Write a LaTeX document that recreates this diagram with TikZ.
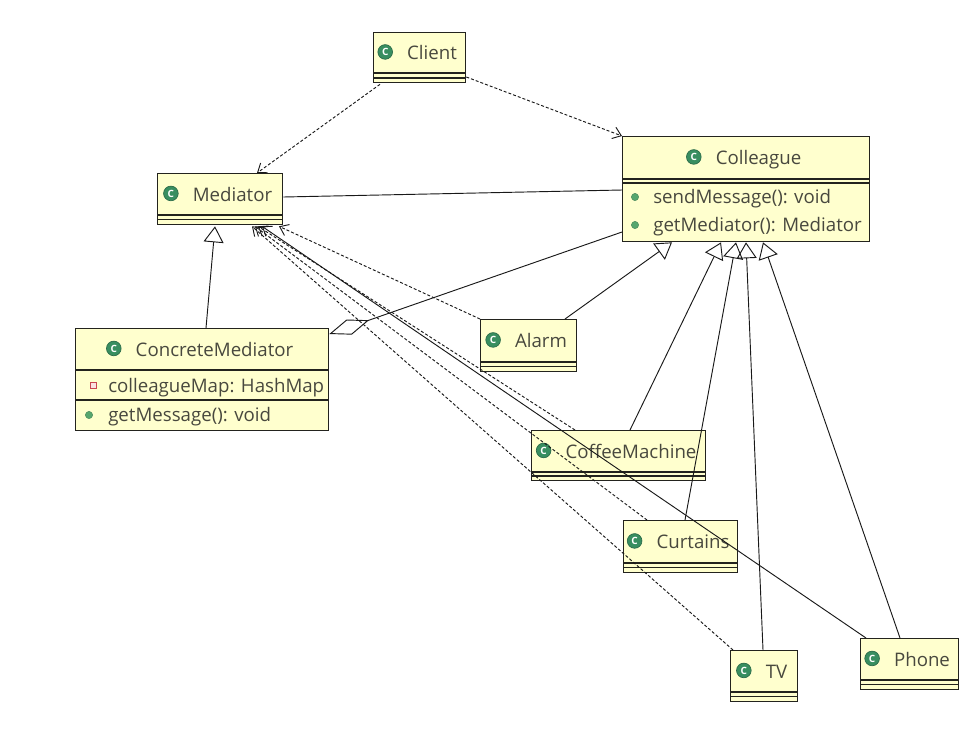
\documentclass[tikz,border=0pt]{standalone}
\usepackage{fontspec}
\setmainfont{Open Sans}
\usetikzlibrary{arrows.meta,calc}
\definecolor{boxfill}{RGB}{255,255,206}
\definecolor{boxline}{RGB}{35,35,30}
\definecolor{txt}{RGB}{72,72,62}
\definecolor{icongreen}{RGB}{56,142,96}
\definecolor{bulletgreen}{RGB}{86,166,110}
\definecolor{attrred}{RGB}{200,70,80}
\definecolor{attrfill}{RGB}{250,225,225}
\definecolor{edgecol}{RGB}{25,25,25}
\newcommand\clsdiv[2]{\draw[clsrule] ($(#1.north west)+(0,#2)$) -- ($(#1.north east)+(0,#2)$);}
\newcommand\clstitle[3]{%
  \node[clsname] (#1) at (#2) {#3};
  \node[clsicon, anchor=east] (#1icon) at ($(#1.west)+(-10.5pt,0.8pt)$) {C};}
\tikzset{
 clsbox/.style={draw=boxline, fill=boxfill, line width=1pt, inner sep=0pt, anchor=north west},
 clsrule/.style={draw=boxline, line width=1pt},
 clsicon/.style={circle, fill=icongreen, draw=icongreen!75!black, line width=0.5pt, minimum size=11pt, inner sep=0pt, text=white, font=\fontsize{7.5}{7.5}\selectfont\bfseries},
 clsname/.style={text=txt, font=\fontsize{14}{16}\selectfont, inner sep=0pt, text height=9.75pt, text depth=0pt},
 member/.style={text=txt, font=\fontsize{14}{16}\selectfont, inner sep=0pt, text height=9.75pt, text depth=0pt, anchor=west},
 opdot/.style={circle, fill=bulletgreen, draw=bulletgreen!80!black, line width=0.3pt, minimum size=5.5pt, inner sep=0pt},
 attrsq/.style={rectangle, draw=attrred, fill=attrfill, line width=0.75pt, minimum size=4.5pt, inner sep=0pt},
 conn/.style={draw=edgecol, line width=0.7pt},
 dep/.style={conn, dash pattern=on 2.25pt off 1.5pt, -{Straight Barb[length=6pt,width=9pt]}},
 usedep/.style={conn, -{Straight Barb[length=6pt,width=9pt]}},
 gen/.style={conn, -{Triangle[open, length=12pt, width=15pt]}},
 agg/.style={conn, {Diamond[open, length=31.5pt, width=12pt]}-},
}
\begin{document}
\begin{tikzpicture}[x=0.75pt, y=-0.75pt]
\useasboundingbox (0,0) rectangle (974,729);
\fill[white] (0,0) rectangle (974,729);

% class boxes
\node[clsbox, minimum width=69pt, minimum height=37.5pt] (client) at (373,32) {};
\clsdiv{client}{41} \clsdiv{client}{46}
\clstitle{clientname}{432,53}{Client}

\node[clsbox, minimum width=93.75pt, minimum height=38.25pt] (mediator) at (157,173) {};
\clsdiv{mediator}{42} \clsdiv{mediator}{46.5}
\clstitle{mediatorname}{232.5,194.5}{Mediator}

\node[clsbox, minimum width=185.25pt, minimum height=78.75pt] (colleague) at (622,136) {};
\clsdiv{colleague}{43} \clsdiv{colleague}{47}
\clstitle{colleaguename}{758.5,158}{Colleague}
\node[opdot] (colop1) at (635,197) {};
\node[member] (colm1) at (653,197) {sendMessage(): void};
\node[opdot] (colop2) at (635,225) {};
\node[member] (colm2) at (653,225) {getMediator(): Mediator};

\node[clsbox, minimum width=189.75pt, minimum height=76.5pt] (cm) at (75,328) {};
\clsdiv{cm}{42} \clsdiv{cm}{72}
\clstitle{cmname}{214.5,349.5}{ConcreteMediator}
\node[attrsq] (cmattr) at (93,385.5) {};
\node[member] (cmm1) at (108,385.5) {colleagueMap: HashMap};
\node[opdot] (cmop) at (89,415) {};
\node[member] (cmm2) at (108,415) {getMessage(): void};

\node[clsbox, minimum width=72pt, minimum height=39pt] (alarm) at (480,319) {};
\clsdiv{alarm}{43} \clsdiv{alarm}{47.5}
\clstitle{alarmname}{541,341}{Alarm}

\node[clsbox, minimum width=130.5pt, minimum height=37.5pt] (coffee) at (531,430) {};
\clsdiv{coffee}{42} \clsdiv{coffee}{46}
\clstitle{coffeename}{631,451.5}{CoffeeMachine}

\node[clsbox, minimum width=85.5pt, minimum height=39pt] (curtains) at (623,520) {};
\clsdiv{curtains}{43} \clsdiv{curtains}{47.5}
\clstitle{curtainsname}{693,542}{Curtains}

\node[clsbox, minimum width=50.25pt, minimum height=38.25pt] (tv) at (730,650) {};
\clsdiv{tv}{42} \clsdiv{tv}{46.5}
\clstitle{tvname}{776.5,671.5}{TV}

\node[clsbox, minimum width=73.5pt, minimum height=38.25pt] (phone) at (860,638) {};
\clsdiv{phone}{42} \clsdiv{phone}{46.5}
\clstitle{phonename}{922,659.5}{Phone}

% connectors
\draw[dep] ($(client.south west)+(7,1)$) -- ($(mediator.north west)+(100,0)$);
\draw[dep] ($(client.north east)+(0,45)$) -- (colleague.north west);
\draw[conn] ($(mediator.north east)+(0,24)$) -- ($(colleague.north west)+(0,54)$);
\draw[gen] ($(cm.north west)+(131,0)$) -- ($(mediator.south west)+(58,1)$);
\draw[agg] ($(cm.north east)+(0,6)$) -- ($(colleague.north west)+(0,96)$);

\draw[gen] ($(alarm.north west)+(85,0)$) -- ($(colleague.south west)+(50,0)$);
\draw[gen] ($(coffee.north west)+(99,0)$) -- ($(colleague.south west)+(99,0)$);
\draw[gen] ($(curtains.north west)+(62,0)$) -- ($(colleague.south west)+(114,0)$);
\draw[gen] ($(tv.north west)+(33,0)$) -- ($(colleague.south west)+(124,0)$);
\draw[gen] ($(phone.north west)+(40,0)$) -- ($(colleague.south west)+(141,0)$);

\draw[dep] (alarm.north west) -- ($(mediator.south west)+(122,1)$);
\draw[dep] ($(coffee.north west)+(44,0)$) -- ($(mediator.south west)+(101,1)$);
\draw[dep] ($(curtains.north west)+(24,0)$) -- ($(mediator.south west)+(98,1)$);
\draw[dep] ($(tv.north west)+(3,0)$) -- ($(mediator.south west)+(95,1)$);
\draw[usedep] ($(phone.north west)+(6,0)$) -- ($(mediator.south west)+(105,1)$);
\end{tikzpicture}
\end{document}
